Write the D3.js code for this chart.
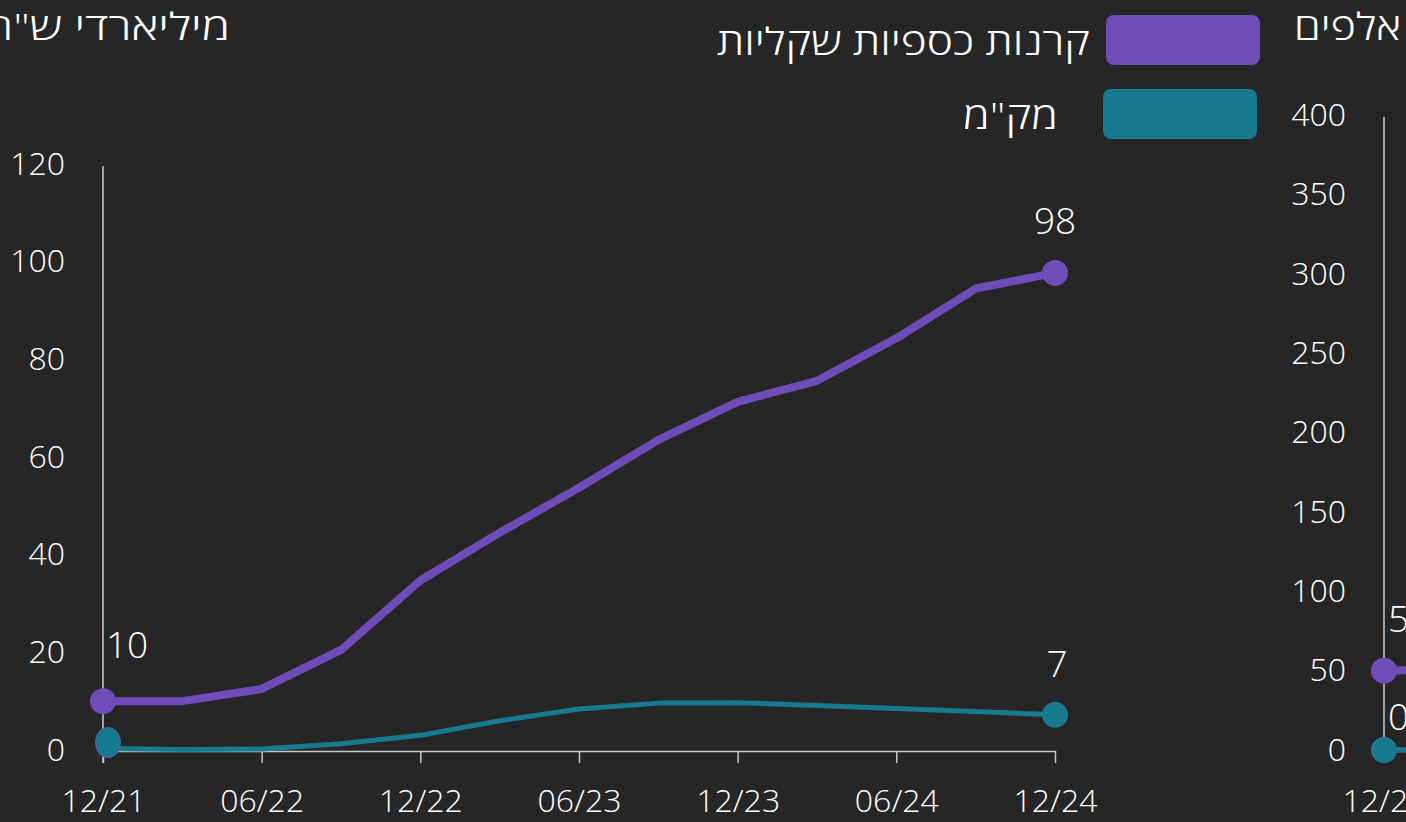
<!DOCTYPE html>
<html lang="he">
<head>
<meta charset="utf-8">
<script src="https://cdn.jsdelivr.net/npm/d3@7"></script>
<style>
  html, body { margin: 0; padding: 0; background: #262626; overflow: hidden; }
  svg { display: block; font-family: "Open Sans", "DejaVu Sans", sans-serif; font-weight: 300; }
  .axis text { fill: #ffffff; font-size: 32px; font-family: "Open Sans", sans-serif; font-weight: 300; }
  .axis line, .axis path { stroke: #c8c8c8; stroke-width: 1.5; }
</style>
</head>
<body>
<div id="chart"></div>
<script>
const width = 1406;
const height = 822;

// quarterly dates
const dates = ["12/21", "03/22", "06/22", "09/22", "12/22", "03/23", "06/23",
               "09/23", "12/23", "03/24", "06/24", "09/24", "12/24"];
const tickIdx = [0, 2, 4, 6, 8, 10, 12];

// left chart – billions of shekels
const moneyFunds = [10, 10, 12.5, 20.5, 34.7, 44.5, 53.7, 63.5, 71.3, 75.6, 84.3, 94.5, 97.7];
const makam = [0.3, 0.1, 0.2, 1.3, 3.0, 6.0, 8.4, 9.6, 9.7, 9.1, 8.5, 7.9, 7.2];
const leftTicks = [0, 20, 40, 60, 80, 100, 120];

// right chart – thousands (only the start is inside the frame)
const rightFunds = [50, 51];
const rightMakam = [0, 0.5];
const rightTicks = [0, 50, 100, 150, 200, 250, 300, 350, 400];

const purple = "#6f4db8";
const teal = "#177a8f";

const svg = d3.select("#chart").append("svg")
    .attr("width", width)
    .attr("height", height);

svg.append("rect").attr("width", width).attr("height", height).attr("fill", "#262626");

function drawPanel(opts) {
    const x = d3.scaleLinear().domain([0, dates.length - 1]).range([opts.left, opts.left + 952]);
    const y = d3.scaleLinear().domain([0, opts.max]).range([750, opts.top]);

    const g = svg.append("g");

    // x axis
    g.append("g")
        .attr("class", "axis")
        .attr("transform", `translate(0,${y(0) + 1})`)
        .call(d3.axisBottom(x).tickValues(tickIdx).tickFormat((i) => dates[i])
            .tickSize(12).tickSizeOuter(0).tickPadding(26));

    // y axis (labels only)
    const ya = g.append("g")
        .attr("class", "axis")
        .attr("transform", `translate(${x(0)},0)`)
        .call(d3.axisLeft(y).tickValues(opts.ticks).tickSize(0).tickPadding(38));
    ya.select(".domain").remove();
    ya.append("line")
        .attr("x1", 0).attr("x2", 0)
        .attr("y1", y(opts.max) + 2).attr("y2", y(0) + 13);

    const line = d3.line().x((d, i) => x(i)).y((d) => y(d));

    g.append("path").datum(opts.funds)
        .attr("fill", "none").attr("stroke", purple).attr("stroke-width", 8)
        .attr("stroke-linejoin", "round").attr("d", line);
    g.append("path").datum(opts.makam)
        .attr("fill", "none").attr("stroke", teal).attr("stroke-width", 5)
        .attr("stroke-linejoin", "round").attr("d", line);

    // start markers
    g.append("circle").attr("cx", x(0)).attr("cy", y(opts.funds[0])).attr("r", 13).attr("fill", purple);
    if (opts.oval) {
        g.append("ellipse").attr("cx", x(0) + 5).attr("cy", y(opts.makam[0]) - 6)
            .attr("rx", 12).attr("ry", 14.5)
            .attr("fill", teal).attr("stroke", "#3b679b").attr("stroke-width", 2);
    } else {
        g.append("circle").attr("cx", x(0)).attr("cy", y(opts.makam[0])).attr("r", 13).attr("fill", teal);
    }

    return { x, y, g };
}

const left = drawPanel({ left: 103, top: 164, max: 120, ticks: leftTicks, funds: moneyFunds, makam: makam, oval: true });
const right = drawPanel({ left: 1384, top: 115, max: 400, ticks: rightTicks, funds: rightFunds, makam: rightMakam, oval: false });

// end markers on left chart
const last = dates.length - 1;
left.g.append("circle").attr("cx", left.x(last)).attr("cy", left.y(moneyFunds[last])).attr("r", 13).attr("fill", purple);
left.g.append("circle").attr("cx", left.x(last)).attr("cy", left.y(makam[last])).attr("r", 13).attr("fill", teal);

// value labels
const labelStyle = (s) => s.attr("fill", "#fff").attr("font-size", 37).attr("font-weight", 300);
left.g.append("text").call(labelStyle)
    .attr("x", left.x(0) + 3).attr("y", left.y(moneyFunds[0]) - 43)
    .text(Math.round(moneyFunds[0]));
left.g.append("text").call(labelStyle).attr("text-anchor", "middle")
    .attr("x", left.x(last)).attr("y", left.y(moneyFunds[last]) - 39)
    .text(Math.round(moneyFunds[last]));
left.g.append("text").call(labelStyle).attr("text-anchor", "middle")
    .attr("x", left.x(last) + 2).attr("y", left.y(makam[last]) - 38)
    .text(Math.round(makam[last]));
right.g.append("text").call(labelStyle)
    .attr("x", right.x(0) + 4).attr("y", right.y(rightFunds[0]) - 39)
    .text(Math.round(rightFunds[0]));
right.g.append("text").call(labelStyle)
    .attr("x", right.x(0) + 4).attr("y", right.y(rightMakam[0]) - 20)
    .text(Math.round(rightMakam[0]));

// unit titles (the Hebrew face in the original runs wider, so stretch a little)
svg.append("text").attr("x", 230).attr("y", 40).attr("text-anchor", "end")
    .attr("fill", "#fff").attr("font-size", 37)
    .attr("textLength", 246).attr("lengthAdjust", "spacingAndGlyphs")
    .text("מיליארדי ש\"ח");
svg.append("text").attr("x", 1401).attr("y", 40).attr("text-anchor", "end")
    .attr("fill", "#fff").attr("font-size", 37)
    .attr("textLength", 107).attr("lengthAdjust", "spacingAndGlyphs")
    .text("אלפים");

// legend
const legendItems = [
    { label: "קרנות כספיות שקליות", color: purple, bx: 1106, by: 15, tx: 1090, tw: 373 },
    { label: "מק\"מ", color: teal, bx: 1103, by: 89, tx: 1058, tw: 95 }
];
const legend = svg.append("g").selectAll("g").data(legendItems).join("g");
legend.append("rect")
    .attr("x", (d) => d.bx).attr("y", (d) => d.by)
    .attr("width", 154).attr("height", 50).attr("rx", 8)
    .attr("fill", (d) => d.color);
legend.append("text")
    .attr("x", (d) => d.tx).attr("y", (d) => d.by + 25)
    .attr("dominant-baseline", "central").attr("text-anchor", "end")
    .attr("fill", "#fff").attr("font-size", 37)
    .attr("textLength", (d) => d.tw).attr("lengthAdjust", "spacingAndGlyphs")
    .text((d) => d.label);
</script>
</body>
</html>
